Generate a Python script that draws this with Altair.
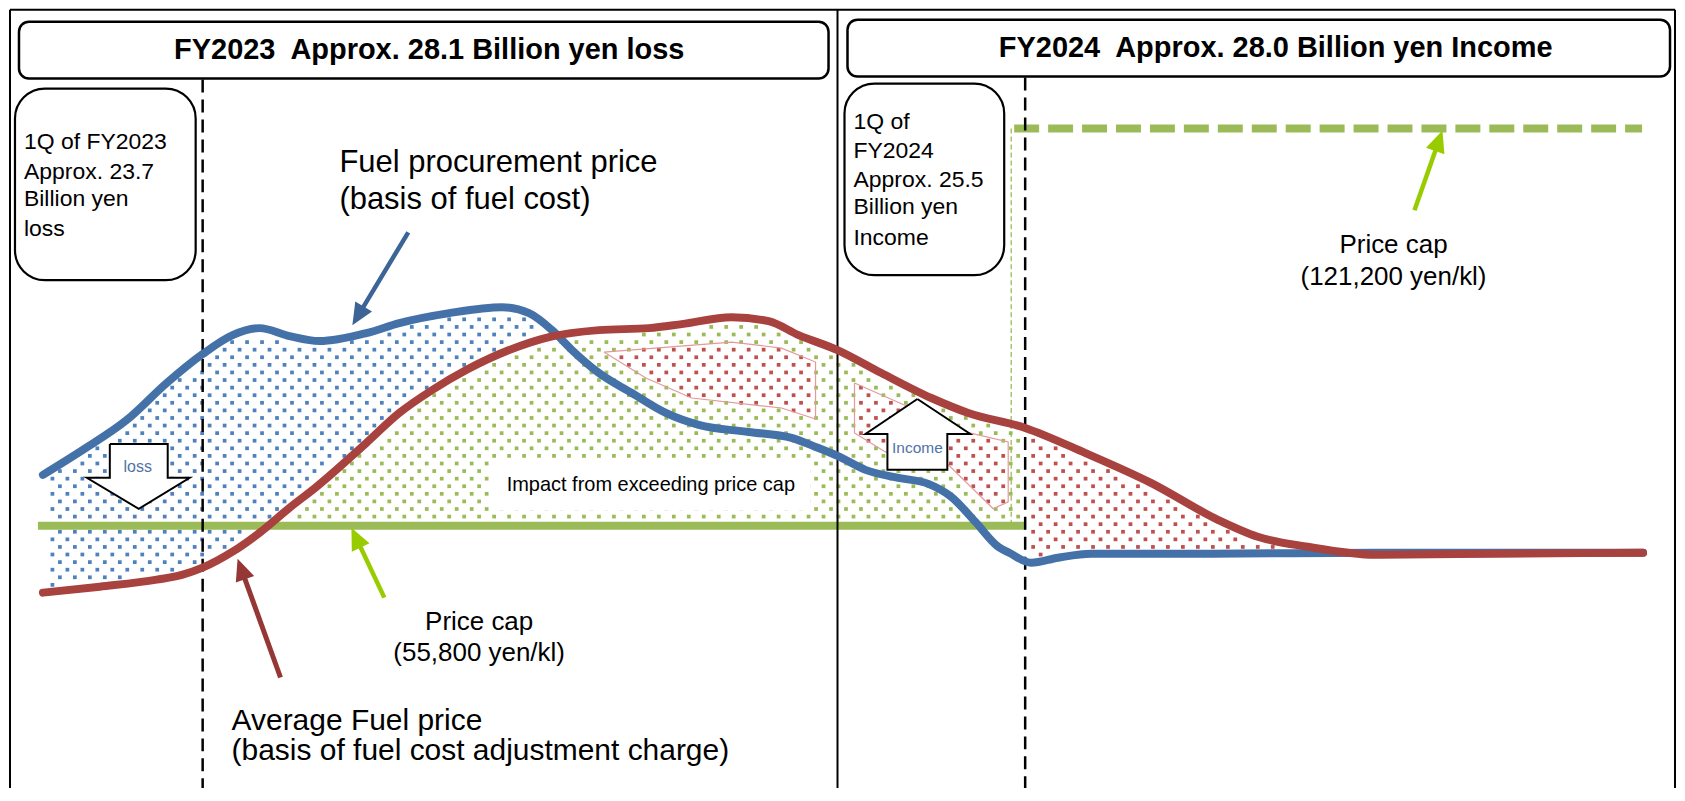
import altair as alt
import numpy as np
import pandas as pd

# ---------------- values (picture units, y grows downward) ----------------
# Fuel procurement price (basis of fuel cost) - blue curve
proc_t = [43, 83, 127, 167, 203, 233, 260, 290, 320, 367, 400, 450, 503, 530, 553, 573, 600, 633, 667, 700,
          750, 793, 817, 839, 867, 900, 930, 953, 977, 1000, 1011, 1033, 1060, 1093, 1213, 1378, 1646]
proc_p = [475, 450, 420, 383, 354, 335, 328, 336, 341, 333, 323, 313, 307, 313, 330, 350, 373, 393, 413, 425,
          432, 438, 447, 456, 470, 478, 484, 497, 522, 547, 553, 563, 558, 554, 554, 553, 553]
# Average fuel price (basis of fuel cost adjustment charge) - red curve
avg_t = [43, 100, 157, 183, 203, 233, 260, 290, 317, 367, 400, 433, 467, 510, 550, 600, 650, 683, 733, 770,
         800, 839, 883, 933, 970, 1027, 1087, 1153, 1220, 1260, 1310, 1378, 1500, 1646]
avg_p = [593, 587, 580, 575, 568, 552, 533, 508, 487, 443, 413, 390, 370, 350, 337, 330, 328, 324, 317, 321,
         335, 350, 373, 398, 413, 428, 453, 483, 520, 537, 547, 555, 554, 553]
# price caps: level and span
cap1_level, cap1_from, cap1_to = 526, 38, 1027
cap2_level, cap2_from, cap2_to = 128, 1016, 1645
# highlighted excess areas (outlines)
poly1_x = [605, 733, 783, 817, 817, 783, 693, 647]
poly1_y = [352, 342, 348, 362, 419, 408, 398, 378]
poly2_x = [856, 967, 1010, 1010, 995, 950, 887, 856]
poly2_y = [383, 432, 442, 502, 509, 465, 452, 433]
# block arrows
loss_x = [110, 168, 168, 190, 139, 87, 110, 110]
loss_y = [444, 444, 478, 478, 509, 478, 478, 444]
inc_x = [919, 972, 949, 949, 889, 889, 867, 919]
inc_y = [399, 434, 434, 470, 470, 434, 434, 399]

# texts
header_texts = ["FY2023\u00a0 Approx. 28.1 Billion yen loss", "FY2024\u00a0 Approx. 28.0 Billion yen Income"]
q1_2023_lines = ["1Q of FY2023", "Approx. 23.7", "Billion yen", "loss"]
q1_2024_lines = ["1Q of", "FY2024", "Approx. 25.5", "Billion yen", "Income"]
proc_label = ["Fuel procurement price", "(basis of fuel cost)"]
avg_label = ["Average Fuel price", "(basis of fuel cost adjustment charge)"]
cap1_label = ["Price cap", "(55,800 yen/kl)"]
cap2_label = ["Price cap", "(121,200 yen/kl)"]
impact_label = "Impact from exceeding price cap"
loss_label = "loss"
income_label = "Income"

# ---------------- layout / styles ----------------
W, H = 1672, 780
FONT = "Liberation Sans"
BLUE_LINE, RED_LINE = "#4472A8", "#A8423F"
BLUE_DOT, GREEN_DOT, RED_DOT = "#4F81BD", "#9BBB59", "#C0504D"
CAP, LIME = "#9BBB59", "#99CC00"

xs = alt.Scale(domain=[8, 8 + W], nice=False, zero=False)
ys = alt.Scale(domain=[8, 8 + H], nice=False, zero=False, reverse=True)


def X(f="x"):
    return alt.X(f"{f}:Q", scale=xs, axis=None)


def Y(f="y"):
    return alt.Y(f"{f}:Q", scale=ys, axis=None)


layers = []

# ---------- dotted textures (style) ----------
COL, ROW = 15.0, 7.6


def lattice(x0, x1, y0, y1):
    out = []
    for j in range(int(np.floor(y0 / ROW)), int(np.ceil(y1 / ROW)) + 1):
        off = COL / 2 if j % 2 else 0.0
        for xx in np.arange(np.floor((x0 - off) / COL) * COL + off, x1 + COL, COL):
            out.append((xx, j * ROW))
    a = np.array(out)
    return a[:, 0], a[:, 1]


def inside(px, py, qx, qy):
    qx, qy = np.asarray(qx, float), np.asarray(qy, float)
    res = np.zeros(len(px), bool)
    j = len(qx) - 1
    for i in range(len(qx)):
        c = ((qy[i] > py) != (qy[j] > py)) & (
            px < (qx[j] - qx[i]) * (py - qy[i]) / (qy[j] - qy[i] + 1e-9) + qx[i])
        res ^= c
        j = i
    return res


px, py = lattice(30, 1340, 280, 580)
b = np.interp(px, proc_t, proc_p)
r = np.interp(px, avg_t, avg_p)
in_p = inside(px, py, poly1_x, poly1_y) | inside(px, py, poly2_x, poly2_y)
m_blue = (px >= 48) & (px <= 548) & (py > b + 6) & (py < r - 6)
m_green = (px >= 255) & (px <= 1022) & (py > r + 6) & (py < cap1_level - 5) & ~in_p
m_red = (px >= 1031) & (py > r + 6) & (py < b - 6)
m_poly = in_p

dots = pd.concat([
    pd.DataFrame({"x": px[m_blue], "y": py[m_blue], "c": BLUE_DOT}),
    pd.DataFrame({"x": px[m_green], "y": py[m_green], "c": GREEN_DOT}),
    pd.DataFrame({"x": px[m_red], "y": py[m_red], "c": RED_DOT}),
    pd.DataFrame({"x": px[m_poly], "y": py[m_poly], "c": RED_DOT}),
])
layers.append(alt.Chart(dots).mark_square(size=14, opacity=1, filled=True).encode(
    x=X(), y=Y(), color=alt.Color("c:N", scale=None)))

# impact label box
layers.append(alt.Chart(pd.DataFrame({"x": [490], "x2": [812], "y": [458], "y2": [511]})).mark_rect(
    fill="white").encode(x=X(), x2=alt.X2("x2"), y=Y(), y2=alt.Y2("y2")))

# highlighted outlines
poly_df = pd.concat([
    pd.DataFrame({"x": poly1_x + poly1_x[:1], "y": poly1_y + poly1_y[:1], "id": "p1"}),
    pd.DataFrame({"x": poly2_x + poly2_x[:1], "y": poly2_y + poly2_y[:1], "id": "p2"}),
])
poly_df["i"] = poly_df.groupby("id").cumcount()
layers.append(alt.Chart(poly_df).mark_line(color="#E39A98", strokeWidth=1.2).encode(
    x=X(), y=Y(), order="i:Q", detail="id:N"))

# price caps
layers.append(alt.Chart(pd.DataFrame({"x": [cap1_from], "x2": [cap1_to], "y": [cap1_level]})).mark_rule(
    color=CAP, strokeWidth=8).encode(x=X(), x2=alt.X2("x2"), y=Y()))
layers.append(alt.Chart(pd.DataFrame({"x": [cap2_from], "x2": [cap2_to], "y": [cap2_level]})).mark_rule(
    color=CAP, strokeWidth=8, strokeDash=[25, 9]).encode(x=X(), x2=alt.X2("x2"), y=Y()))
layers.append(alt.Chart(pd.DataFrame({"x": [1013], "y": [cap2_level], "y2": [cap1_level]})).mark_rule(
    color=CAP, strokeWidth=1.3, strokeDash=[5, 3]).encode(x=X(), y=Y(), y2=alt.Y2("y2")))

# period separators and frame
layers.append(alt.Chart(pd.DataFrame({"x": [203, 1027], "y": [79, 77], "y2": [801, 801]})).mark_rule(
    color="black", strokeWidth=2.5, strokeDash=[13, 7]).encode(x=X(), y=Y(), y2=alt.Y2("y2")))
layers.append(alt.Chart(pd.DataFrame({"x": [10, 839, 1678], "y": [9, 9, 9], "y2": [801, 801, 801]})).mark_rule(
    color="black", strokeWidth=2).encode(x=X(), y=Y(), y2=alt.Y2("y2")))
layers.append(alt.Chart(pd.DataFrame({"x": [10], "x2": [1678], "y": [9]})).mark_rule(
    color="black", strokeWidth=2).encode(x=X(), x2=alt.X2("x2"), y=Y()))

# curves
layers.append(alt.Chart(pd.DataFrame({"x": proc_t, "y": proc_p})).mark_line(
    color=BLUE_LINE, strokeWidth=8, strokeCap="round", interpolate="monotone").encode(x=X(), y=Y()))
layers.append(alt.Chart(pd.DataFrame({"x": avg_t, "y": avg_p})).mark_line(
    color=RED_LINE, strokeWidth=8, strokeCap="round", interpolate="monotone").encode(x=X(), y=Y()))

# block arrows
blk = pd.concat([
    pd.DataFrame({"x": loss_x, "y": loss_y, "id": "loss"}),
    pd.DataFrame({"x": inc_x, "y": inc_y, "id": "inc"}),
])
blk["i"] = blk.groupby("id").cumcount()
layers.append(alt.Chart(blk).mark_line(fill="white", stroke="black", strokeWidth=2, strokeJoin="miter").encode(
    x=X(), y=Y(), order="i:Q", detail="id:N"))

# pointer arrows
ptr = [("#3C6496", 409, 232, 353, 325, 4.5), ("#953735", 281, 678, 238, 559, 5),
       (LIME, 385, 598, 352, 528, 4.5), (LIME, 1417, 210, 1445, 130, 4.5)]
HEAD = 529
rr = np.sqrt(HEAD) / 2
shaft_rows, head_rows = [], []
for c, x0, y0, x1, y1, w in ptr:
    d = np.hypot(x1 - x0, y1 - y0)
    ux, uy = (x1 - x0) / d, (y1 - y0) / d
    shaft_rows.append({"x": x0, "y": y0, "x2": x1 - ux * rr * 1.4, "y2": y1 - uy * rr * 1.4, "c": c, "w": w})
    ang = np.degrees(np.arctan2(ux, -uy)) % 360
    head_rows.append({"x": x1 - ux * rr, "y": y1 - uy * rr, "a": ang, "c": c})
layers.append(alt.Chart(pd.DataFrame(shaft_rows)).mark_rule().encode(
    x=X(), y=Y(), x2=alt.X2("x2"), y2=alt.Y2("y2"), color=alt.Color("c:N", scale=None),
    strokeWidth=alt.StrokeWidth("w:Q", scale=None)))
layers.append(alt.Chart(pd.DataFrame(head_rows)).mark_point(
    shape="M0,-1L0.85,0.9L-0.85,0.9Z", filled=True, size=HEAD, opacity=1).encode(
    x=X(), y=Y(), angle=alt.Angle("a:Q", scale=None), color=alt.Color("c:N", scale=None)))

# boxes
boxes = pd.DataFrame({"x": [19, 849], "x2": [830, 1673], "y": [21, 19], "y2": [78, 76]})
layers.append(alt.Chart(boxes).mark_rect(fill="white", stroke="black", strokeWidth=2.5, cornerRadius=10).encode(
    x=X(), x2=alt.X2("x2"), y=Y(), y2=alt.Y2("y2")))
qboxes = pd.DataFrame({"x": [15, 846], "x2": [196, 1006], "y": [88, 83], "y2": [280, 275]})
layers.append(alt.Chart(qboxes).mark_rect(fill="white", stroke="black", strokeWidth=2.2, cornerRadius=30).encode(
    x=X(), x2=alt.X2("x2"), y=Y(), y2=alt.Y2("y2")))


def texts(rows, **mk):
    df = pd.DataFrame(rows, columns=["x", "y", "t"])
    return alt.Chart(df).mark_text(font=FONT, baseline="middle", **mk).encode(x=X(), y=Y(), text="t:N")


layers.append(texts([(430, 49, header_texts[0]), (1278, 47, header_texts[1])],
                    align="center", fontSize=29, fontWeight="bold", color="black"))
layers.append(texts([(24, yy, t) for yy, t in zip([142, 172, 199, 229], q1_2023_lines)] +
                    [(855, yy, t) for yy, t in zip([122, 151, 180, 207, 238], q1_2024_lines)],
                    align="left", fontSize=23, color="black"))
layers.append(texts([(340, 163, proc_label[0]), (340, 200, proc_label[1])],
                    align="left", fontSize=31, color="black"))
layers.append(texts([(232, 722, avg_label[0]), (232, 752, avg_label[1])],
                    align="left", fontSize=30, color="black"))
layers.append(texts([(480, 622, cap1_label[0]), (480, 653, cap1_label[1]),
                     (1396, 245, cap2_label[0]), (1396, 277, cap2_label[1])],
                    align="center", fontSize=26, color="black"))
layers.append(texts([(652, 485, impact_label)], align="center", fontSize=20, color="black"))
layers.append(texts([(138, 467, loss_label)], align="center", fontSize=16, color="#4F72A8"))
layers.append(texts([(919, 448, income_label)], align="center", fontSize=15.5, color="#4F72A8"))

chart = alt.layer(*layers).properties(
    width=W, height=H, padding=0, autosize=alt.AutoSizeParams(type="none"), background="white"
).configure_view(stroke=None)

chart.save("out.html", embed_options={"renderer": "svg", "actions": False})
